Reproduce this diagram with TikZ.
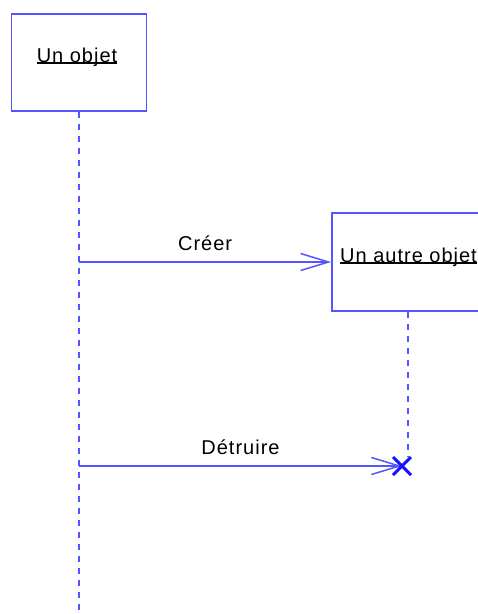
\documentclass[tikz,border=0pt]{standalone}
\usepackage{fontspec}
\setmainfont{Liberation Sans}[LetterSpace=5]
\usetikzlibrary{arrows.meta, positioning, calc}
\definecolor{umlblue}{RGB}{85,85,255}
\definecolor{killblue}{RGB}{20,20,255}
\tikzset{>={Straight Barb[length=28pt, width=17pt]}}
\tikzset{font=\fontsize{20}{24}\selectfont}
\newcommand{\souligne}[1]{\setbox0\hbox{#1}\rlap{\rule[-1.5pt]{\wd0}{1.2pt}}\box0}

\begin{document}
\begin{tikzpicture}[x=1pt, y=-1pt,
    objet/.style={draw=umlblue, line width=1.7pt, minimum width=135pt,
      minimum height=97pt, inner sep=0pt},
    vie/.style={draw=umlblue, line width=1.5pt, dash pattern=on 6pt off 6pt},
    msg/.style={draw=umlblue, line width=1.5pt, ->}]
      \clip (0, 0) rectangle (478, 614);%
      % the two objects
      \node[objet] (obj) at (79, 62.5) {};%
      \node[anchor=base] (nomobj) at (77, 62) {\souligne{Un objet}};%
      \node[objet, minimum width=152pt, minimum height=98pt] (autre) at (408, 262) {};%
      \node[anchor=base west, inner sep=0pt] (nomautre) at (340, 262) {\souligne{Un autre objet}};%
      \coordinate (bas) at (79, 614);%
      \coordinate (fin) at (402, 466);%
      \coordinate (haut) at (408, 457);%
      % lifelines
      \draw [vie] (obj.south) -- (bas);%
      \draw [vie] (autre.south) -- (haut);%
      % messages
      \draw [msg] (obj.south |- autre.west) -- node[midway, anchor=base, yshift=12pt] {Créer} (autre.west);%
      \draw [msg] (obj.south |- fin) -- node[midway, anchor=base, yshift=12pt] {Détruire} (fin);%
      % destruction
      \draw [killblue, line width=3pt] ($(fin)+(-9, -9)$) -- ($(fin)+(9, 9)$);%
      \draw [killblue, line width=3pt] ($(fin)+(-9, 9)$) -- ($(fin)+(9, -9)$);%
\end{tikzpicture}
\end{document}
